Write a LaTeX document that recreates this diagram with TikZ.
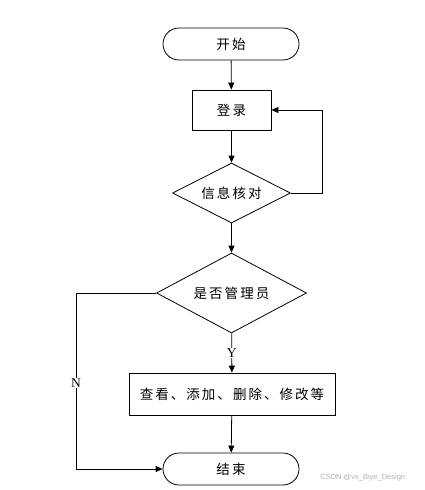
\documentclass[tikz,border=0pt]{standalone}
\usepackage{fontspec}
\newfontfamily\cjk[LetterSpace=15]{Noto Sans CJK SC}
\newfontfamily\lserif{Liberation Serif}
\newfontfamily\lsans{Liberation Sans}
\usetikzlibrary{arrows.meta,shapes.geometric,shapes.misc}
\begin{document}
\begin{tikzpicture}[x=1pt,y=-1pt, line width=0.8pt,
  >={Triangle[length=7pt,width=6pt]},
  cjktext/.style={font=\cjk\fontsize{13.5}{15}\selectfont},
  term/.style={rounded rectangle, draw, minimum width=136pt, minimum height=32pt, inner sep=0pt, cjktext},
  box/.style={rectangle, draw, inner sep=0pt, cjktext},
  dec/.style={diamond, draw, aspect=2, inner sep=0pt, cjktext},
  lbl/.style={fill=white, inner sep=1pt, font=\lserif\fontsize{13.5}{15}\selectfont}]
\useasboundingbox[fill=white] (0,0) rectangle (425,490);
\node[term] (start) at (231,44) {开始};
\node[box, minimum width=79pt, minimum height=40pt] (login) at (231.5,110) {登录};
\node[dec, minimum width=118pt, minimum height=60pt] (check) at (231.5,193) {信息核对};
\node[dec, minimum width=150pt, minimum height=80pt] (admin) at (231.5,293) {是否管理员};
\node[box, minimum width=206pt, minimum height=42pt] (ops) at (232,394) {查看、添加、删除、修改等};
\node[term] (end) at (231,469) {结束};
\coordinate (lp) at (322,110);
\coordinate (nc) at (76,293);
\draw[->] (start) -- (login);
\draw[->] (login) -- (check);
\draw[->] (check.east) -| (lp) -- (login.east);
\draw[->] (check) -- (admin);
\draw[->] (admin) -- node[lbl] (ylab) {Y} (ops);
\draw[->] (ops) -- (end);
\draw[->] (admin.west) -- (nc) |- (end.west);
\node[lbl] (nlab) at (76,383) {N};
\node[font=\lsans\fontsize{7.5}{9}\selectfont, text=black!30, anchor=west, inner sep=0pt] (wm) at (320,478) {CSDN @vx\_Biye\_Design};
\end{tikzpicture}
\end{document}
